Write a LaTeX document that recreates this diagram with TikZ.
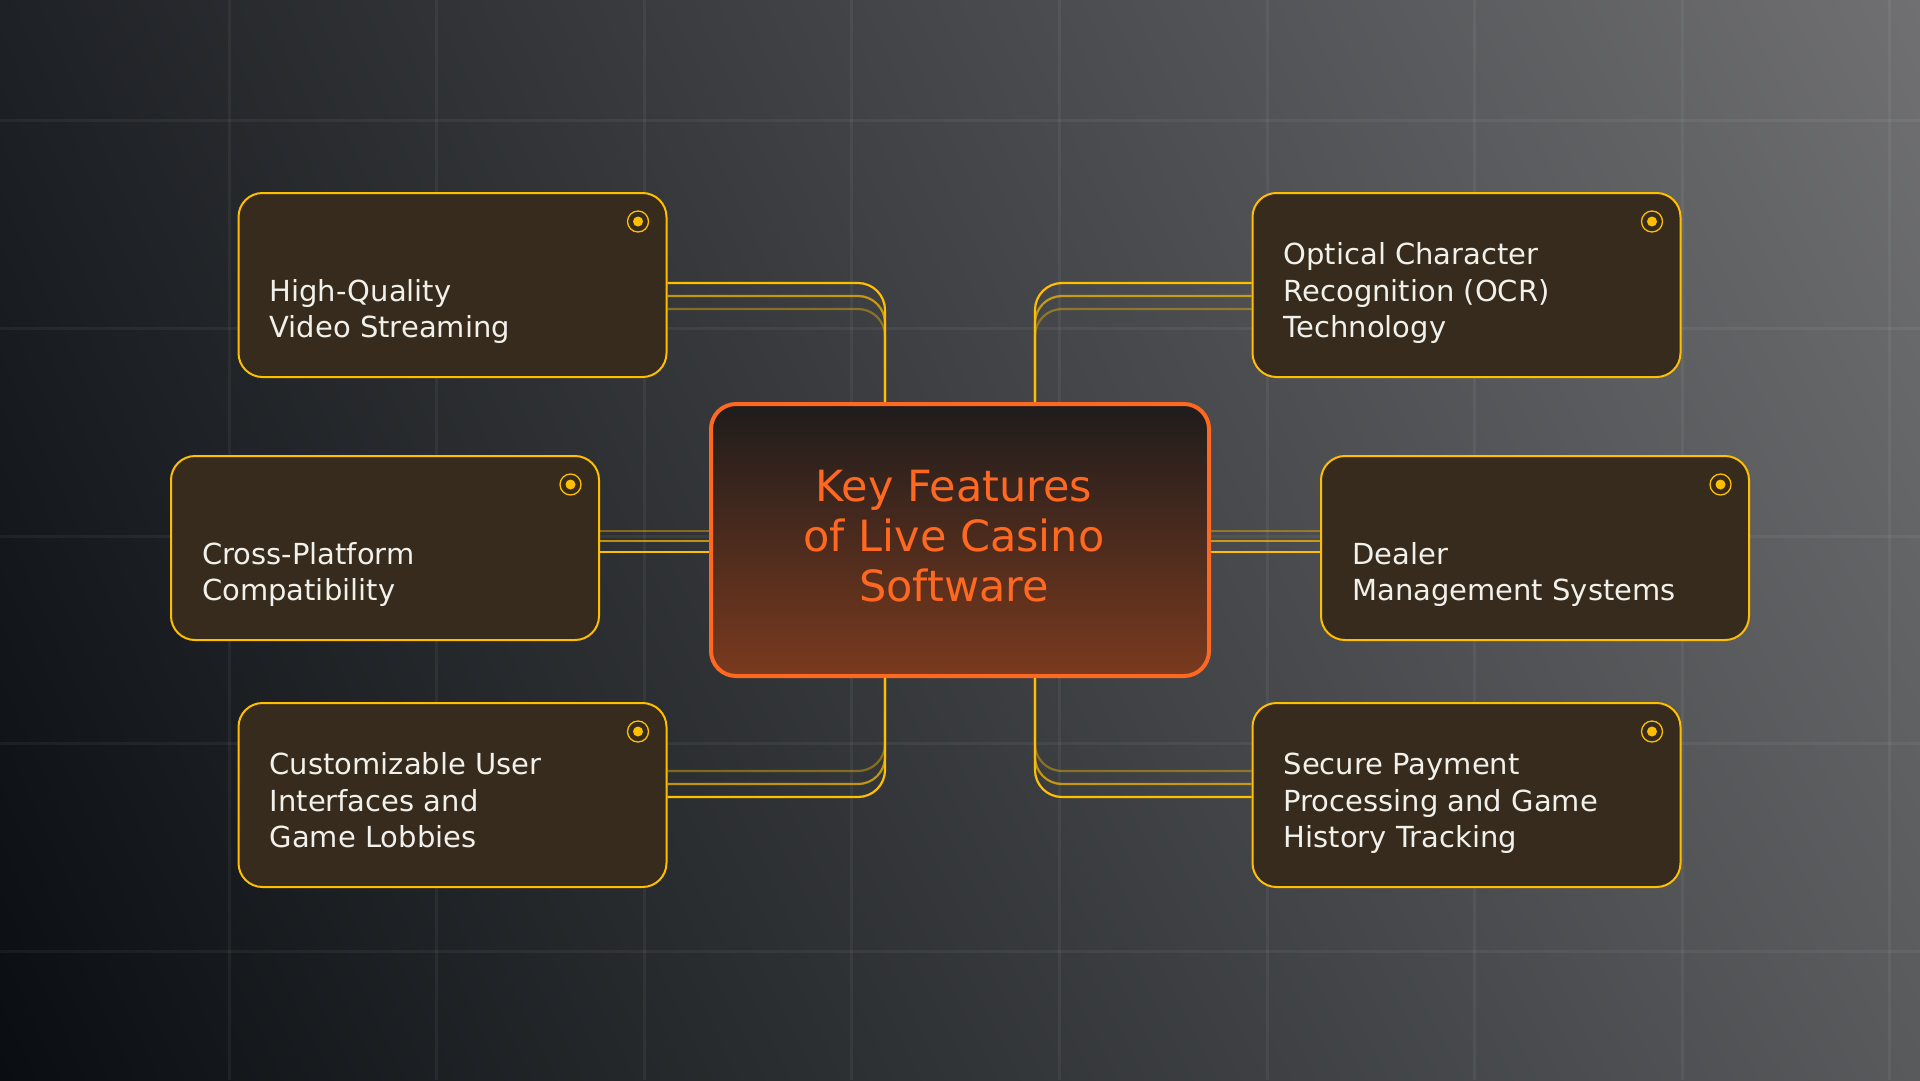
\documentclass[tikz,border=0pt]{standalone}
\usepackage{fontspec}
\setmainfont{DejaVu Sans}
\usetikzlibrary{shadings}

\definecolor{ylw}{RGB}{255,190,0}
\definecolor{cardfill}{RGB}{54,43,28}
\definecolor{orng}{RGB}{255,104,32}
\definecolor{hubtop}{RGB}{30,28,28}
\definecolor{hubbot}{RGB}{122,58,30}
\definecolor{bgtl}{RGB}{30,33,37}
\definecolor{bgtr}{RGB}{112,112,114}
\definecolor{bgbl}{RGB}{10,14,18}
\definecolor{bgbr}{RGB}{88,90,92}
\definecolor{cardtxt}{RGB}{242,240,235}

\pgfdeclarelayer{back}
\pgfdeclarelayer{wires}
\pgfsetlayers{back,wires,main}

\tikzset{
  card/.style={draw=ylw, line width=2, fill=cardfill, rounded corners=24,
    minimum width=428, minimum height=184, inner sep=0},
  hub/.style={draw=orng, line width=4, top color=hubtop, bottom color=hubbot,
    rounded corners=25, minimum width=498, minimum height=272, inner sep=0},
  hubtext/.style={text=orng, align=center, inner sep=0,
    font=\fontsize{43}{50}\selectfont},
  cardtext/.style={anchor=base west, align=left, inner sep=0, text=cardtxt,
    font=\fontsize{29}{36.5}\selectfont},
  pin/.style={circle, draw=ylw, line width=1.3, minimum size=21, inner sep=0,
    path picture={\fill[ylw] (path picture bounding box.center) circle (5pt);}},
  wire/.style={draw=ylw, line width=2.2, rounded corners=27},
  gridline/.style={white, opacity=0.05, line width=3},
}

\begin{document}
\begin{tikzpicture}[x=1pt, y=-1pt]
  \useasboundingbox (0,0) rectangle (1920,1080);

  \begin{pgfonlayer}{back}
    \shade[upper left=bgtl, upper right=bgtr, lower left=bgbl, lower right=bgbr]
      (0,0) rectangle (1920,1080);
    \foreach \gx in {229,436.6,...,1890}
      \draw[gridline] (\gx,0) -- (\gx,1080);
    \foreach \gy in {120.7,328.45,...,952}
      \draw[gridline] (0,\gy) -- (1920,\gy);
  \end{pgfonlayer}

  \node[hub] (hub) at (960,540) {};
  \node[hubtext] (hub-t) at ([xshift=-6,yshift=4]hub.center) {Key Features\\of Live Casino\\Software};

  \node[card] (tl) at (452.5,285) {};
  \node[card] (ml) at (385,548) {};
  \node[card] (bl) at (452.5,795) {};
  \node[card] (tr) at (1466.5,285) {};
  \node[card] (mr) at (1535,548) {};
  \node[card] (br) at (1466.5,795) {};

  \node[cardtext] (tl-t) at ([xshift=32,yshift=40.5]tl.south west) {High-Quality\\Video Streaming};
  \node[cardtext] (ml-t) at ([xshift=32,yshift=40.5]ml.south west) {Cross-Platform\\Compatibility};
  \node[cardtext] (bl-t) at ([xshift=32,yshift=40.5]bl.south west) {Customizable User\\Interfaces and\\Game Lobbies};
  \node[cardtext] (tr-t) at ([xshift=32,yshift=40.5]tr.south west) {Optical Character\\Recognition (OCR)\\Technology};
  \node[cardtext] (mr-t) at ([xshift=32,yshift=40.5]mr.south west) {Dealer\\Management Systems};
  \node[cardtext] (br-t) at ([xshift=32,yshift=40.5]br.south west) {Secure Payment\\Processing and Game\\History Tracking};

  \foreach \c in {tl,ml,bl,tr,mr,br}
    \node[pin] (\c-pin) at ([xshift=-29.5,yshift=-29.5]\c.north east) {};

  \begin{pgfonlayer}{wires}
    \foreach \dy/\op in {-24/0.4, -11/0.7, 2/1} {
      \draw[wire, draw opacity=\op] ([yshift=\dy]tl.east) -| ([xshift=-75]hub.north);
      \draw[wire, draw opacity=\op] ([yshift=\dy]tr.west) -| ([xshift=75]hub.north);
    }
    \foreach \dy/\op in {17/0.4, 7/0.7, -4/1} {
      \draw[wire, draw opacity=\op] ([yshift=\dy]ml.east) -- ([yshift=\dy]ml.east -| hub.west);
      \draw[wire, draw opacity=\op] ([yshift=\dy]mr.west) -- ([yshift=\dy]mr.west -| hub.east);
    }
    \foreach \dy/\op in {24/0.4, 11/0.7, -2/1} {
      \draw[wire, draw opacity=\op] ([yshift=\dy]bl.east) -| ([xshift=-75]hub.south);
      \draw[wire, draw opacity=\op] ([yshift=\dy]br.west) -| ([xshift=75]hub.south);
    }
  \end{pgfonlayer}
\end{tikzpicture}
\end{document}
